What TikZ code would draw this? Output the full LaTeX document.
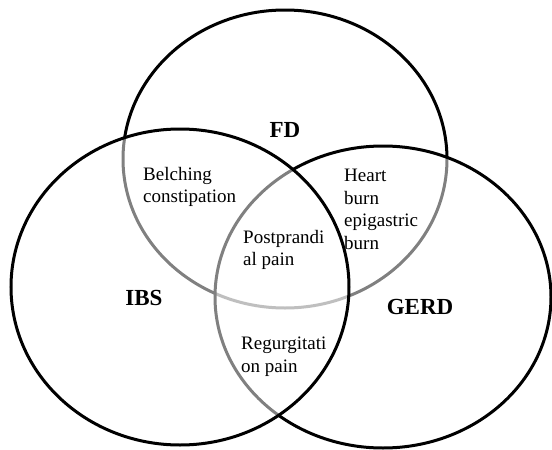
\documentclass[tikz,border=0pt]{standalone}
\usepackage{fontspec}
\setmainfont{Liberation Serif}
\usetikzlibrary{positioning}
\tikzset{
  ring/.style={line width=3pt, draw=black, fill=white, fill opacity=0.5, draw opacity=1},
  setname/.style={font=\fontsize{23}{26}\selectfont\bfseries, inner sep=0pt},
  symptom/.style={font=\fontsize{19}{22.5}\selectfont, align=left, anchor=north west, inner sep=0pt}
}
\begin{document}
\begin{tikzpicture}[x=1pt,y=-1pt]
\useasboundingbox (0,0) rectangle (552,450);
% the three sets, drawn in this order so the lower strokes fade
\coordinate (cFD) at (285,159);
\coordinate (cGERD) at (383,297);
\coordinate (cIBS) at (180,287);
\draw[ring] (cFD) ellipse [x radius=162, y radius=149];
\draw[ring] (cGERD) ellipse [x radius=168, y radius=151];
\draw[ring] (cIBS) ellipse [x radius=169, y radius=158];
% set names
\node (fd) [setname] at (285,130) {FD};
\node (ibs) [setname] at (144,298) {IBS};
\node (gerd) [setname] at (420,307) {GERD};
% overlaps
\node (belch) [symptom] at (143,167) {Belching\\constipation};
\node (heart) [symptom] at (344,169) {Heart\\burn\\epigastric\\burn};
\node (post) [symptom] at (243,230) {Postprandi\\al pain};
\node (regurg) [symptom] at (241,337) {Regurgitati\\on pain};
\end{tikzpicture}
\end{document}
